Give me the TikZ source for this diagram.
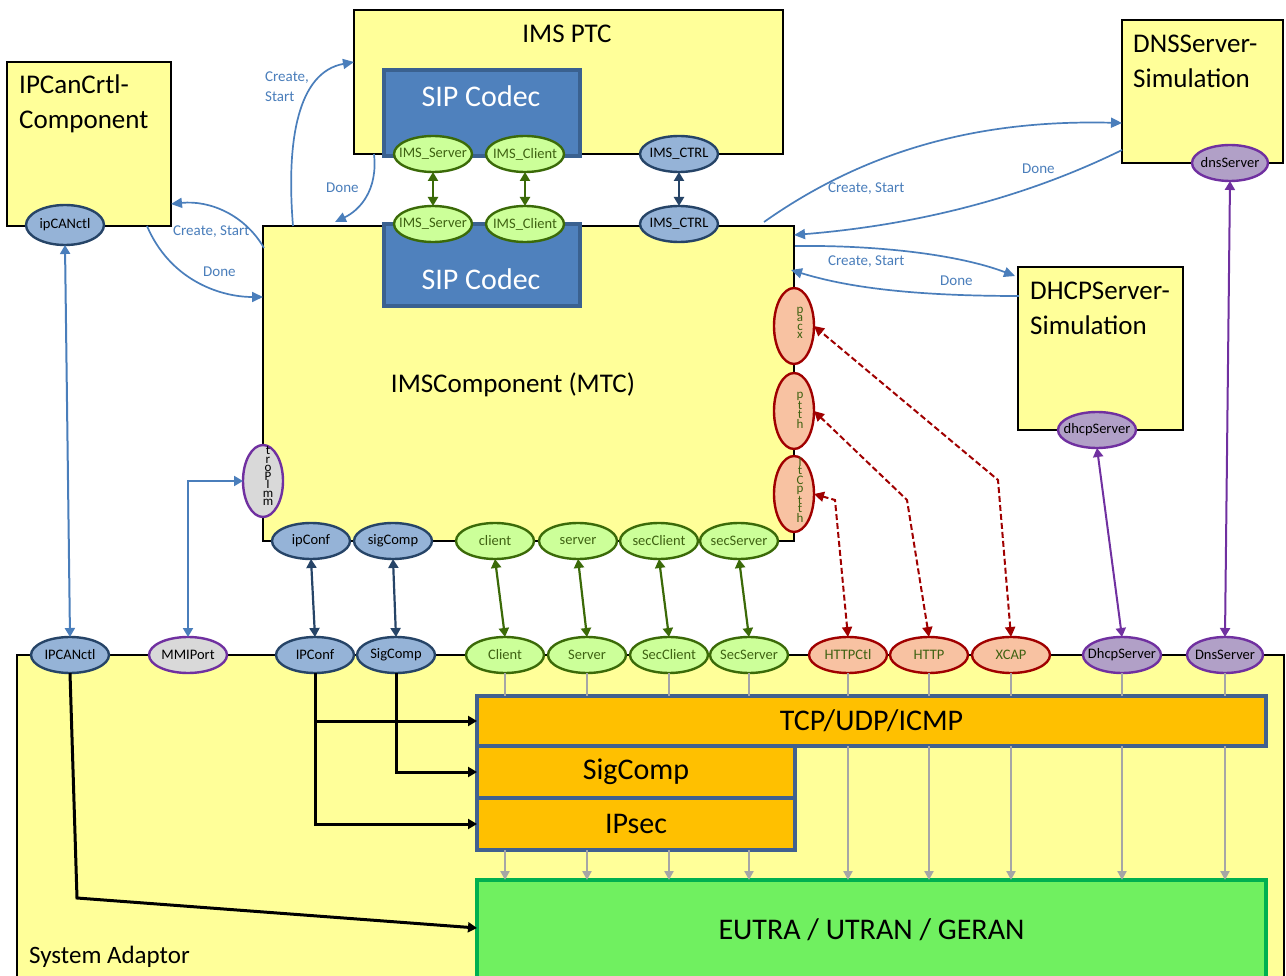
\documentclass[tikz,border=0pt]{standalone}
\usepackage{fontspec}
\setmainfont{Carlito}
\usetikzlibrary{shapes.geometric,arrows.meta,calc}
\definecolor{yellowc}{HTML}{FFFF99}
\definecolor{portblue}{HTML}{95B3D7}
\definecolor{dblue}{HTML}{264467}
\definecolor{portgreen}{HTML}{CCFF99}
\definecolor{dgreen}{HTML}{3B6A08}
\definecolor{tgreen}{HTML}{3F6212}
\definecolor{portred}{HTML}{F8C2A2}
\definecolor{dred}{HTML}{A00000}
\definecolor{portpurple}{HTML}{B1A0C7}
\definecolor{purp}{HTML}{7030A0}
\definecolor{portgrey}{HTML}{D9D9D9}
\definecolor{cblue}{HTML}{4A7EBB}
\definecolor{sipblue}{HTML}{4F81BD}
\definecolor{sipborder}{HTML}{3A6190}
\definecolor{lorange}{HTML}{FFC000}
\definecolor{lborder}{HTML}{41618F}
\definecolor{eutfill}{HTML}{70F060}
\definecolor{eutborder}{HTML}{00B050}
\definecolor{greyl}{HTML}{A6A6A6}
\tikzset{
  box/.style={draw=black, line width=2pt, fill=yellowc, inner sep=0pt, outer sep=0pt, anchor=north west},
  sip/.style={draw=sipborder, line width=4pt, fill=sipblue, inner sep=0pt, outer sep=0pt, anchor=north west},
  siptext/.style={text=white, font=\fontsize{30}{34}\selectfont, inner sep=0pt, anchor=base},
  layer/.style={draw=lborder, line width=4pt, fill=lorange, inner sep=0pt, outer sep=0pt, anchor=north west, font=\fontsize{30}{34}\selectfont},
  eut/.style={draw=eutborder, line width=4pt, fill=eutfill, inner sep=0pt, outer sep=0pt, anchor=north west, font=\fontsize{30}{34}\selectfont},
  title/.style={font=\fontsize{27}{32}\selectfont, inner sep=0pt},
  port/.style={ellipse, minimum width=78pt, minimum height=36pt, inner sep=0pt, outer sep=0pt, line width=2.4pt},
  plabel/.style={font=\fontsize{14.5}{15}\selectfont, inner sep=0pt},
  bport/.style={port, fill=portblue, draw=dblue, label={[plabel]center:#1}},
  gport/.style={port, fill=portgreen, draw=dgreen, label={[plabel, text=tgreen]center:#1}},
  rport/.style={port, fill=portred, draw=dred, label={[plabel, text=tgreen]center:#1}},
  pport/.style={port, fill=portpurple, draw=purp, label={[plabel]center:#1}},
  vport/.style={ellipse, minimum width=40pt, minimum height=76pt, inner sep=0pt, outer sep=0pt, line width=2.4pt},
  vtext/.style={align=center, font=\fontsize{13}{8.5}\selectfont, inner sep=0pt},
  ctrl/.style={draw=cblue, line width=1.7pt, -{Triangle[length=11pt,width=10pt]}},
  clabel/.style={text=cblue, font=\fontsize{15}{20}\selectfont, inner sep=0pt, anchor=base west},
  dbl/.style={line width=2.6pt, {Triangle[length=9pt,width=10pt]}-{Triangle[length=9pt,width=10pt]}},
  rdash/.style={draw=dred, line width=2pt, dash pattern=on 6pt off 3pt, {Triangle[length=10pt,width=10pt]}-{Triangle[length=10pt,width=10pt]}},
  gline/.style={draw=greyl, line width=2.6pt},
  garr/.style={gline, -{Triangle[length=9pt,width=9pt]}},
  blk/.style={draw=black, line width=3pt, -{Triangle[length=9pt,width=10pt]}},
}
\begin{document}
\begin{tikzpicture}[x=1pt,y=-1pt]
\useasboundingbox (0,0) rectangle (1286,976);
\fill[white] (0,0) rectangle (1286,976);

% ---------- boxes ----------
\node[box, minimum width=1267pt, minimum height=340pt] (sa) at (17,655) {};
\node[box, minimum width=429pt, minimum height=144pt] (ptc) at (354,10) {};
\node[box, minimum width=164pt, minimum height=164pt] (ipcan) at (7,62) {};
\node[box, minimum width=531pt, minimum height=315pt] (mtc) at (263,226) {};
\node[box, minimum width=161pt, minimum height=143pt] (dns) at (1122,20) {};
\node[box, minimum width=165pt, minimum height=163pt] (dhcp) at (1018,267) {};
\node[sip, minimum width=196pt, minimum height=86pt] (sipA) at (384,70) {};
\node[sip, minimum width=196pt, minimum height=82pt] (sipB) at (384,224) {};

% ---------- layers ----------
\node[layer, minimum width=789pt, minimum height=50pt] (tcp) at (477,696) {TCP/UDP/ICMP};
\node[layer, minimum width=318pt, minimum height=52pt] (sigc) at (477,746) {SigComp};
\node[layer, minimum width=318pt, minimum height=52pt] (ipsec) at (477,798) {IPsec};
\node[eut, minimum width=789pt, minimum height=100pt] (eutra) at (477,880) {EUTRA / UTRAN / GERAN};

% ---------- titles ----------
\node[title, anchor=base] (tptc) at (567,43) {IMS PTC};
\node[title, anchor=base west] (tipc1) at (19,94) {IPCanCrtl-};
\node[title, anchor=base west] (tipc2) at (19,129) {Component};
\node[title, anchor=base west] (tdns1) at (1133,53) {DNSServer-};
\node[title, anchor=base west] (tdns2) at (1133,88) {Simulation};
\node[title, anchor=base west] (tdhcp1) at (1030,300) {DHCPServer-};
\node[title, anchor=base west] (tdhcp2) at (1030,335) {Simulation};
\node[title, anchor=base] (tmtc) at (513,393) {IMSComponent (MTC)};
\node[siptext] (tsipA) at (481,107) {SIP Codec};
\node[siptext] (tsipB) at (481,290) {SIP Codec};
\node[title, font=\fontsize{25}{30}\selectfont, anchor=base west] (tsa) at (29,963) {System Adaptor};

% ---------- ports ----------
\node[gport=IMS\_Server] (ptcServer) at (433,154) {};
\node[gport=IMS\_Client] (ptcClient) at (525,154) {};
\node[bport=IMS\_CTRL] (ptcCtrl) at (679,154) {};
\node[gport=IMS\_Server] (mtcServer) at (433,224) {};
\node[gport=IMS\_Client] (mtcClient) at (525,224) {};
\node[bport=IMS\_CTRL] (mtcCtrl) at (679,224) {};
\node[bport=ipCANctl, minimum height=40pt] (ipCANctl) at (65,225) {};
\node[pport=dnsServer, minimum width=76pt] (dnsServer) at (1230,163) {};
\node[pport=dhcpServer] (dhcpServer) at (1097,430) {};

\node[vport, fill=portgrey, draw=purp, minimum height=72pt] (mmi) at (263,481) {};
\node[vtext] (mmiT) at (268,476) {t\\r\\o\\P\\I\\m\\m};
\node[vport, fill=portred, draw=dred] (xcapP) at (794,326) {};
\node[vtext, text=tgreen] (xcapT) at (800,323) {p\\a\\c\\x};
\node[vport, fill=portred, draw=dred] (httpP) at (794,411) {};
\node[vtext, text=tgreen] (httpT) at (800,410) {p\\t\\t\\h};
\node[vport, fill=portred, draw=dred] (httpCtlP) at (794,494) {};
\node[vtext, text=tgreen] (httpCtlT) at (800,490) {l\\t\\C\\p\\t\\t\\h};

\node[bport=ipConf] (ipConf) at (311,541) {};
\node[bport=sigComp] (sigComp) at (393,541) {};
\node[gport=client] (client) at (495,541) {};
\node[gport=server] (server) at (578,541) {};
\node[gport=secClient] (secClient) at (659,541) {};
\node[gport=secServer] (secServer) at (739,541) {};

\node[bport=IPCANctl] (IPCANctl) at (70,655) {};
\node[port, fill=portgrey, draw=purp, label={[plabel]center:MMIPort}] (MMIPort) at (188,655) {};
\node[bport=IPConf] (IPConf) at (315,655) {};
\node[bport=SigComp] (SigComp) at (396,655) {};
\node[gport=Client] (Client) at (505,655) {};
\node[gport=Server] (Server) at (587,655) {};
\node[gport=SecClient] (SecClient) at (669,655) {};
\node[gport=SecServer] (SecServer) at (749,655) {};
\node[rport=HTTPCtl] (HTTPCtl) at (848,655) {};
\node[rport=HTTP] (HTTP) at (929,655) {};
\node[rport=XCAP] (XCAP) at (1011,655) {};
\node[pport=DhcpServer] (DhcpServer) at (1122,655) {};
\node[pport=DnsServer, minimum width=76pt] (DnsServer) at (1225,655) {};

% ---------- port-to-port connectors ----------
\draw[dbl, draw=dgreen] (ptcServer.south) -- (mtcServer.north);
\draw[dbl, draw=dgreen] (ptcClient.south) -- (mtcClient.north);
\draw[dbl, draw=dblue] (ptcCtrl.south) -- (mtcCtrl.north);
\draw[dbl, draw=cblue, line width=2pt] (ipCANctl.south) -- (IPCANctl.north);
\draw[dbl, draw=cblue, line width=2pt] (MMIPort.north) |- (mmi.west);
\draw[dbl, draw=dblue, line width=2.2pt] (ipConf.south) -- (IPConf.north);
\draw[dbl, draw=dblue, line width=2.2pt] (sigComp.south) -- (SigComp.north);
\draw[dbl, draw=dgreen, line width=2.2pt] (client.south) -- (Client.north);
\draw[dbl, draw=dgreen, line width=2.2pt] (server.south) -- (Server.north);
\draw[dbl, draw=dgreen, line width=2.2pt] (secClient.south) -- (SecClient.north);
\draw[dbl, draw=dgreen, line width=2.2pt] (secServer.south) -- (SecServer.north);
\draw[dbl, draw=purp, line width=2pt] (dhcpServer.south) -- (DhcpServer.north);
\draw[dbl, draw=purp, line width=2pt] (dnsServer.south) -- (DnsServer.north);

\coordinate (k1) at (835,500);
\coordinate (k2) at (907,500);
\coordinate (k3) at (998,480);
\draw[rdash] (HTTPCtl.north) -- (k1) -- (httpCtlP.east);
\draw[rdash] (HTTP.north) -- (k2) -- (httpP.east);
\draw[rdash] (XCAP.north) -- (k3) -- (xcapP.east);

% ---------- grey data lines ----------
\foreach \p in {Client,Server,SecClient,SecServer,HTTPCtl,HTTP,XCAP,DhcpServer,DnsServer}
  \draw[gline] (\p.south) -- (\p.south |- tcp.north);
\foreach \p in {Client,Server,SecClient,SecServer}
  \draw[garr] (\p.south |- ipsec.south) -- (\p.south |- eutra.north);
\foreach \p in {HTTPCtl,HTTP,XCAP,DhcpServer,DnsServer}
  \draw[garr] (\p.south |- tcp.south) -- (\p.south |- eutra.north);

% ---------- black SA connectors ----------
\draw[blk] (IPConf.south) |- (tcp.west);
\draw[blk] (IPConf.south) |- (ipsec.west);
\draw[blk] (SigComp.south) |- (sigc.west);
\coordinate (k4) at (77,898);
\draw[blk] (IPCANctl.south) -- (k4) -- ($(eutra.north west)+(0,48)$);

% ---------- control arrows ----------
\draw[ctrl] ($(mtc.north west)+(30,0)$) .. controls (286,140) and (298,72) .. ($(ptc.north west)+(0,52)$);
\node[clabel] (l1a) at (265,82) {Create,};
\node[clabel] (l1b) at (265,102) {Start};
\draw[ctrl] ($(ptc.south west)+(20,0)$) .. controls (378,190) and (360,210) .. ($(mtc.north west)+(72,-4)$);
\node[clabel] (l2) at (326,193) {Done};
\draw[ctrl] ($(mtc.north west)+(1,22)$) .. controls (245,215) and (210,200) .. ($(ipcan.south east)+(0,-22)$);
\node[clabel] (l3) at (173,236) {Create, Start};
\draw[ctrl] ($(ipcan.south east)+(-24,0)$) .. controls (170,280) and (220,297) .. ($(mtc.north west)+(0,71)$);
\node[clabel] (l4) at (203,277) {Done};
\draw[ctrl] ($(mtc.north east)+(-30,-4)$) .. controls (880,140) and (1000,120) .. ($(dns.north west)+(0,103)$);
\node[clabel] (l5) at (828,193) {Create, Start};
\draw[ctrl] ($(dns.north west)+(0,130)$) .. controls (1000,210) and (880,228) .. ($(mtc.north east)+(0,9)$);
\node[clabel] (l6) at (1022,174) {Done};
\draw[ctrl] ($(mtc.north east)+(1,20)$) .. controls (880,245) and (960,255) .. ($(dhcp.north west)+(-3,9)$);
\node[clabel] (l7) at (828,266) {Create, Start};
\draw[ctrl] ($(dhcp.north west)+(1,29)$) .. controls (900,296) and (840,285) .. ($(mtc.north east)+(-3,44)$);
\node[clabel] (l8) at (940,286) {Done};
\end{tikzpicture}
\end{document}
